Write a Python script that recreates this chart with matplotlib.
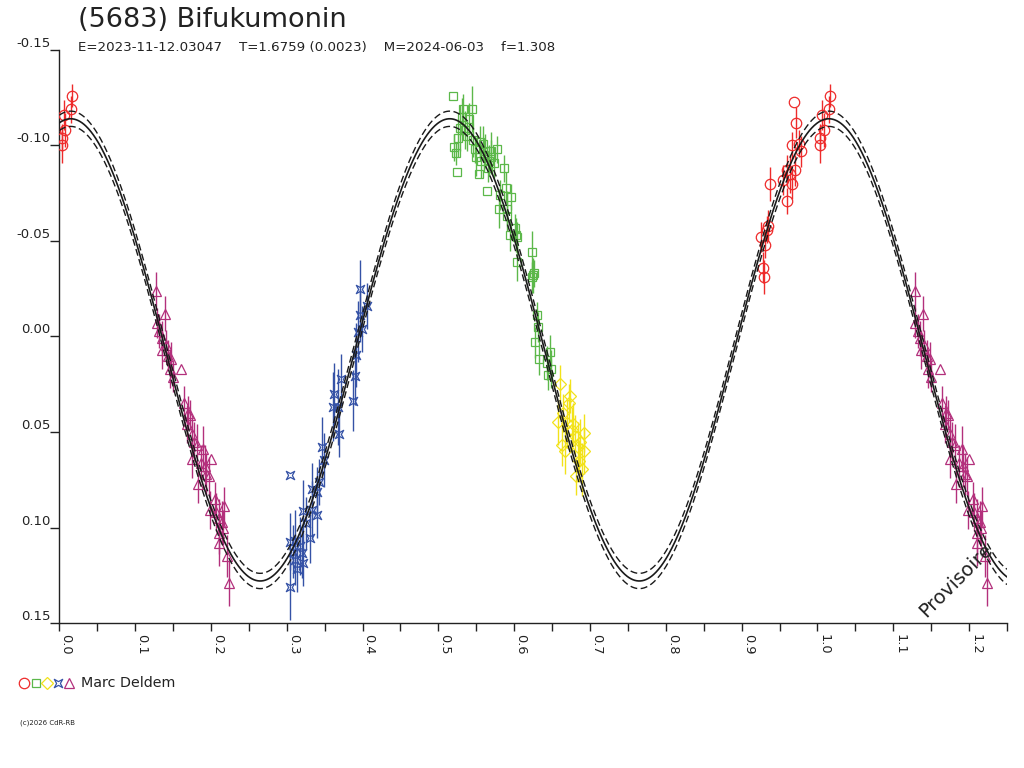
import numpy as np
import matplotlib
matplotlib.use("Agg")
import matplotlib.pyplot as plt
from matplotlib.lines import Line2D
from matplotlib.path import Path

# ─── header text ────────────────────────────────────────────────────────────
TITLE = "(5683) Bifukumonin"
SUBTITLE = "E=2023-11-12.03047    T=1.6759 (0.0023)    M=2024-06-03    f=1.308"
OBSERVER = "Marc Deldem"
FOOTER = "(c)2026 CdR-RB"
STAMP = "Provisoire"

# ─── fitted model (double wave, mag vs phase) ───────────────────────────────
FIT_MEAN = 0.007
FIT_AMP = 0.121
FIT_EPOCH = 0.015
FIT_SIGMA = 0.004

# ─── sessions: phase, relative magnitude, error ─────────────────────────────
red_phase = [0.925, 0.928, 0.929, 0.931, 0.933, 0.935, 0.938, 0.955, 0.960, 0.960,
             0.964, 0.966, 0.966, 0.969, 0.971, 0.972, 0.976, 0.978,
             0.004, 0.004, 0.006, 0.008, 0.015, 0.017]
red_mag = [-0.052, -0.036, -0.031, -0.048, -0.056, -0.058, -0.080, -0.082, -0.087, -0.071,
           -0.085, -0.080, -0.100, -0.123, -0.087, -0.112, -0.101, -0.097,
           -0.104, -0.100, -0.116, -0.108, -0.119, -0.126]
red_err = [0.008, 0.008, 0.009, 0.007, 0.007, 0.008, 0.009, 0.008, 0.008, 0.007,
           0.010, 0.008, 0.007, 0.0, 0.008, 0.008, 0.007, 0.008,
           0.007, 0.009, 0.008, 0.009, 0.007, 0.006]

green_phase = [0.519, 0.521, 0.523, 0.524, 0.526, 0.528, 0.531, 0.533, 0.535, 0.538,
               0.541, 0.544, 0.546, 0.548, 0.550, 0.553, 0.555, 0.556, 0.559, 0.560,
               0.562, 0.564, 0.565, 0.567, 0.569, 0.570, 0.573, 0.577, 0.580, 0.581,
               0.587, 0.589, 0.590, 0.591, 0.595, 0.596, 0.601, 0.603, 0.604, 0.604,
               0.623, 0.623, 0.625, 0.626, 0.628, 0.630, 0.632, 0.633, 0.643, 0.645,
               0.647, 0.648]
green_mag = [-0.126, -0.099, -0.096, -0.086, -0.104, -0.109, -0.115, -0.119, -0.108, -0.105,
             -0.114, -0.119, -0.103, -0.098, -0.094, -0.085, -0.102, -0.092, -0.101, -0.095,
             -0.097, -0.076, -0.088, -0.092, -0.094, -0.097, -0.091, -0.098, -0.067, -0.074,
             -0.088, -0.078, -0.067, -0.063, -0.053, -0.073, -0.057, -0.053, -0.052, -0.039,
             -0.044, -0.031, -0.032, -0.033, 0.003, -0.011, -0.005, 0.012, 0.014, 0.020,
             0.008, 0.017]
green_err = [0.0, 0.007, 0.006, 0.0, 0.010, 0.012, 0.010, 0.008, 0.010, 0.008,
             0.008, 0.012, 0.009, 0.007, 0.010, 0.0, 0.008, 0.009, 0.009, 0.008,
             0.009, 0.0, 0.007, 0.008, 0.009, 0.010, 0.008, 0.007, 0.010, 0.008,
             0.007, 0.008, 0.009, 0.008, 0.008, 0.007, 0.007, 0.009, 0.008, 0.010,
             0.011, 0.008, 0.009, 0.007, 0.008, 0.007, 0.008, 0.008, 0.009, 0.008,
             0.009, 0.010]

yellow_phase = [0.658, 0.660, 0.663, 0.665, 0.667, 0.670, 0.672, 0.674, 0.676, 0.678,
                0.680, 0.682, 0.684, 0.686, 0.687, 0.689, 0.692, 0.692]
yellow_mag = [0.045, 0.025, 0.057, 0.040, 0.060, 0.0455, 0.035, 0.031, 0.049, 0.046,
              0.052, 0.073, 0.058, 0.065, 0.055, 0.0695, 0.0507, 0.060]
yellow_err = [0.012, 0.010, 0.011, 0.010, 0.012, 0.013, 0.010, 0.009, 0.012, 0.011,
              0.011, 0.010, 0.013, 0.011, 0.012, 0.014, 0.010, 0.012]

blue_phase = [0.304, 0.304, 0.304, 0.308, 0.311, 0.311, 0.313, 0.318, 0.320, 0.322,
              0.322, 0.326, 0.331, 0.333, 0.333, 0.340, 0.340, 0.343, 0.346, 0.349,
              0.361, 0.362, 0.368, 0.369, 0.371, 0.388, 0.390, 0.392, 0.394, 0.396,
              0.397, 0.399, 0.406]
blue_mag = [0.1313, 0.1074, 0.0725, 0.1127, 0.1069, 0.117, 0.1219, 0.1097, 0.1135, 0.0912,
            0.1184, 0.0978, 0.1057, 0.080, 0.0908, 0.0812, 0.0935, 0.076, 0.058, 0.0647,
            0.0368, 0.030, 0.0368, 0.051, 0.0224, 0.0336, 0.0207, 0.0097, -0.0025, -0.011,
            -0.025, -0.0038, -0.016]
blue_err = [0.017, 0.015, 0.0, 0.014, 0.016, 0.013, 0.012, 0.015, 0.013, 0.016,
            0.012, 0.014, 0.013, 0.014, 0.015, 0.013, 0.012, 0.012, 0.016, 0.014,
            0.018, 0.016, 0.020, 0.012, 0.013, 0.016, 0.015, 0.017, 0.016, 0.014,
            0.015, 0.012, 0.012]

magenta_phase = [0.128, 0.129, 0.132, 0.135, 0.136, 0.139, 0.141, 0.144, 0.146, 0.148,
                 0.150, 0.161, 0.164, 0.168, 0.170, 0.172, 0.175, 0.175, 0.178, 0.181,
                 0.183, 0.187, 0.190, 0.192, 0.194, 0.197, 0.199, 0.200, 0.205, 0.207,
                 0.210, 0.211, 0.211, 0.214, 0.216, 0.217, 0.221, 0.224]
magenta_mag = [-0.024, -0.007, -0.003, 0.001, 0.007, -0.012, 0.0045, 0.010, 0.017, 0.012,
               0.021, 0.017, 0.035, 0.046, 0.040, 0.041, 0.051, 0.064, 0.055, 0.057,
               0.077, 0.066, 0.059, 0.068, 0.072, 0.073, 0.091, 0.064, 0.085, 0.092,
               0.103, 0.095, 0.108, 0.097, 0.100, 0.089, 0.115, 0.129]
magenta_err = [0.010, 0.008, 0.009, 0.009, 0.010, 0.009, 0.008, 0.008, 0.010, 0.009,
               0.008, 0.0, 0.009, 0.010, 0.009, 0.008, 0.009, 0.010, 0.010, 0.011,
               0.010, 0.009, 0.012, 0.011, 0.011, 0.010, 0.010, 0.0, 0.009, 0.010,
               0.011, 0.010, 0.012, 0.011, 0.009, 0.010, 0.011, 0.012]

# 4-pointed star with pinched sides (session 4 marker)
STAR = Path([(1, 1), (0, 0.45), (-1, 1), (-0.45, 0), (-1, -1), (0, -0.45),
             (1, -1), (0.45, 0), (1, 1)],
            [Path.MOVETO] + [Path.LINETO] * 7 + [Path.CLOSEPOLY])

SESSIONS = [
    (red_phase, red_mag, red_err, "o", "#ee2b2b", 7.5),
    (green_phase, green_mag, green_err, "s", "#5cb84a", 6.0),
    (yellow_phase, yellow_mag, yellow_err, "D", "#f2e21a", 6.5),
    (blue_phase, blue_mag, blue_err, STAR, "#3552a6", 6.0),
    (magenta_phase, magenta_mag, magenta_err, "^", "#b3307c", 6.5),
]

X_MAX = 1.25
TXT = "#222222"

fig = plt.figure(figsize=(10.24, 7.68), dpi=100)
ax = fig.add_axes([0.0579, 0.1888, 0.9255, 0.7461])

# ─── data (phase repeated beyond 1.0) ───────────────────────────────────────
for ph, mag, err, mk, col, ms in SESSIONS:
    ph = np.asarray(ph); mag = np.asarray(mag); err = np.asarray(err)
    wrap = ph + 1 <= X_MAX
    x = np.concatenate([ph, ph[wrap] + 1])
    y = np.concatenate([mag, mag[wrap]])
    e = np.concatenate([err, err[wrap]])
    ax.errorbar(x, y, yerr=e, fmt="none", ecolor=col, elinewidth=1.0, capsize=0, zorder=3)
    ax.plot(x, y, linestyle="none", marker=mk, mfc="none", mec=col, ms=ms, mew=0.9, zorder=4)

# ─── model curve with envelope ──────────────────────────────────────────────
phi = np.linspace(0, X_MAX, 1500)
model = FIT_MEAN - FIT_AMP * np.cos(4 * np.pi * (phi - FIT_EPOCH))
ax.plot(phi, model, color="#1a1a1a", lw=1.2, zorder=5)
for s in (-1, 1):
    ax.plot(phi, model + s * FIT_SIGMA, color="#1a1a1a", lw=1.0,
            dashes=(5, 2.5), zorder=5)

# ─── axes ───────────────────────────────────────────────────────────────────
ax.set_xlim(0, X_MAX)
ax.set_ylim(0.15, -0.15)
for side in ("top", "right"):
    ax.spines[side].set_visible(False)
for side in ("left", "bottom"):
    ax.spines[side].set_linewidth(1.0)
    ax.spines[side].set_color(TXT)

xt = np.round(np.arange(0, 1.21, 0.1), 2)
ax.set_xticks(xt, [f"{v:.1f}" for v in xt])
ax.set_xticks(np.round(np.arange(0.05, 1.26, 0.1), 2), minor=True)
yt = np.round(np.arange(-0.15, 0.151, 0.05), 2)
ax.set_yticks(yt, [f"{v:.2f}" if abs(v) > 1e-9 else "0.00" for v in yt])

ax.tick_params(axis="x", which="both", direction="out", length=6, width=1,
               color=TXT, labelsize=9.3, labelcolor=TXT, pad=2)
ax.tick_params(axis="y", direction="out", length=6.5, width=1, color=TXT,
               labelsize=9.5, labelcolor=TXT, pad=0)
for lab in ax.get_xticklabels():
    lab.set_rotation(-90)
    lab.set_ha("left")
    lab.set_va("top")
for lab in ax.get_yticklabels():
    lab.set_va("bottom")

# ─── texts ──────────────────────────────────────────────────────────────────
fig.text(0.076, 0.974, TITLE, fontsize=19.5, color=TXT, va="center", ha="left")
fig.text(0.076, 0.938, SUBTITLE, fontsize=9.6, color=TXT, va="center", ha="left")
fig.text(956 / 1024, 1 - 580 / 768, STAMP, fontsize=14, color=TXT, rotation=45,
         ha="center", va="center")

# observer legend line
leg_y = 1 - 683 / 768
for (ph, mag, err, mk, col, ms), px in zip(SESSIONS, [24, 36, 47, 58, 69]):
    fig.add_artist(Line2D([px / 1024], [leg_y], transform=fig.transFigure,
                          marker=mk, mfc="none", mec=col, ms=ms, mew=0.9,
                          linestyle="none"))
fig.text(81 / 1024, leg_y, OBSERVER, fontsize=10.3, color=TXT, va="center", ha="left")
fig.text(20 / 1024, 1 - 723 / 768, FOOTER, fontsize=5, color=TXT, va="center", ha="left")

fig.savefig("out.png", dpi=100)
